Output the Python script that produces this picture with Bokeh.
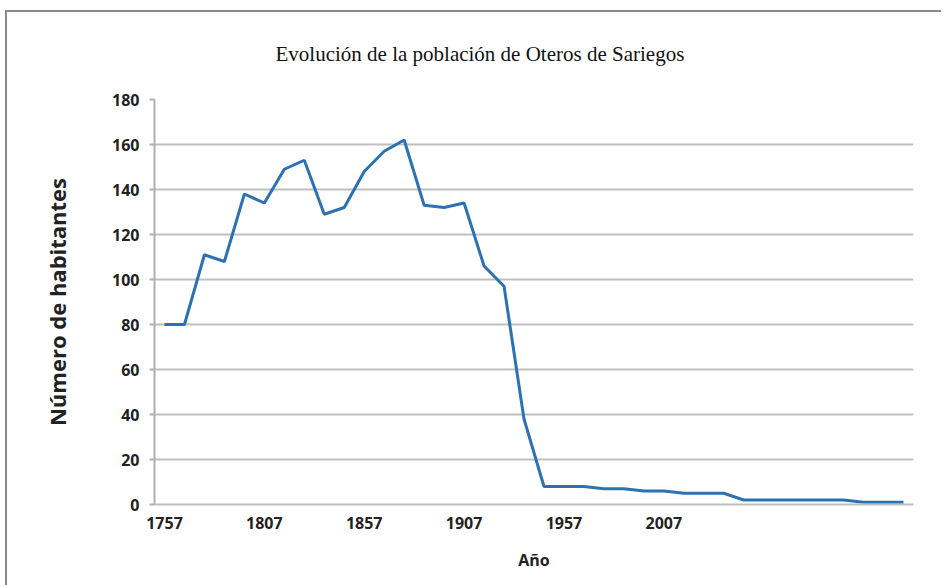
from bokeh.plotting import figure
from bokeh.models import FixedTicker, Range1d, Title
from bokeh.embed import file_html
from bokeh.resources import INLINE

chart_title = "Evolución de la población de Oteros de Sariegos"
x_title = "Año"
y_title = "Número de habitantes"

poblacion = [80, 80, 111, 108, 138, 134, 149, 153, 129, 132,
             148, 157, 162, 133, 132, 134, 106, 97, 38, 8,
             8, 8, 7, 7, 6, 6, 5, 5, 5, 2,
             2, 2, 2, 2, 2, 1, 1, 1]
indice = list(range(len(poblacion)))
tick_pos = [0, 5, 10, 15, 20, 25]
tick_labels = ["1757", "1807", "1857", "1907", "1957", "2007"]
y_ticks = [0, 20, 40, 60, 80, 100, 120, 140, 160, 180]

p = figure(width=936, height=575, output_backend="svg", toolbar_location=None,
           x_range=Range1d(-0.5, len(poblacion) - 0.5), y_range=Range1d(0, 180),
           min_border_left=147, min_border_right=30, min_border_top=87, min_border_bottom=83)
p.styles = {"border-top": "2px solid #8a8a8a", "border-left": "2px solid #8a8a8a",
            "margin-top": "10px", "margin-left": "5px"}

# a second, empty line lifts the title higher above the plot area
t = Title(text=chart_title + "\n", align="left", vertical_align="top", text_font="Liberation Serif",
          text_font_size="21px", text_font_style="normal", text_color="#111111",
          standoff=16, offset=121)
p.add_layout(t, "above")

p.line(indice, poblacion, line_color="#2c72b2", line_width=3)

p.outline_line_color = None
p.background_fill_color = "white"

p.xgrid.grid_line_color = None
p.ygrid.grid_line_color = "#c0c0c0"
p.ygrid.grid_line_width = 2
p.ygrid.ticker = FixedTicker(ticks=y_ticks)

p.yaxis.ticker = FixedTicker(ticks=y_ticks)
p.yaxis.axis_line_color = "#b0b0b0"
p.yaxis.axis_line_width = 2
p.yaxis.major_tick_line_color = "#b0b0b0"
p.yaxis.major_tick_line_width = 2
p.yaxis.major_tick_out = 5
p.yaxis.major_tick_in = 0
p.yaxis.minor_tick_line_color = None
p.yaxis.major_label_text_font = "Open Sans"
p.yaxis.major_label_text_font_style = "bold"
p.yaxis.major_label_text_font_size = "16px"
p.yaxis.major_label_text_color = "#222222"
p.yaxis.major_label_standoff = 10
p.yaxis.axis_label = y_title
p.yaxis.axis_label_text_font = "Open Sans"
p.yaxis.axis_label_text_font_style = "bold"
p.yaxis.axis_label_text_font_size = "22px"
p.yaxis.axis_label_text_color = "#222222"
p.yaxis.axis_label_standoff = 37

p.xaxis.ticker = FixedTicker(ticks=tick_pos)
p.xaxis.major_label_overrides = {pos: lab for pos, lab in zip(tick_pos, tick_labels)}
p.xaxis.axis_line_color = "#c0c0c0"
p.xaxis.axis_line_width = 2
p.xaxis.major_tick_line_color = None
p.xaxis.minor_tick_line_color = None
p.xaxis.major_label_text_font = "Open Sans"
p.xaxis.major_label_text_font_style = "bold"
p.xaxis.major_label_text_font_size = "16px"
p.xaxis.major_label_text_color = "#222222"
p.xaxis.major_label_standoff = 6
p.xaxis.axis_label = x_title
p.xaxis.axis_label_text_font = "Open Sans"
p.xaxis.axis_label_text_font_style = "bold"
p.xaxis.axis_label_text_font_size = "16px"
p.xaxis.axis_label_text_color = "#222222"
p.xaxis.axis_label_standoff = 17

open("out.html", "w").write(file_html(p, INLINE))
